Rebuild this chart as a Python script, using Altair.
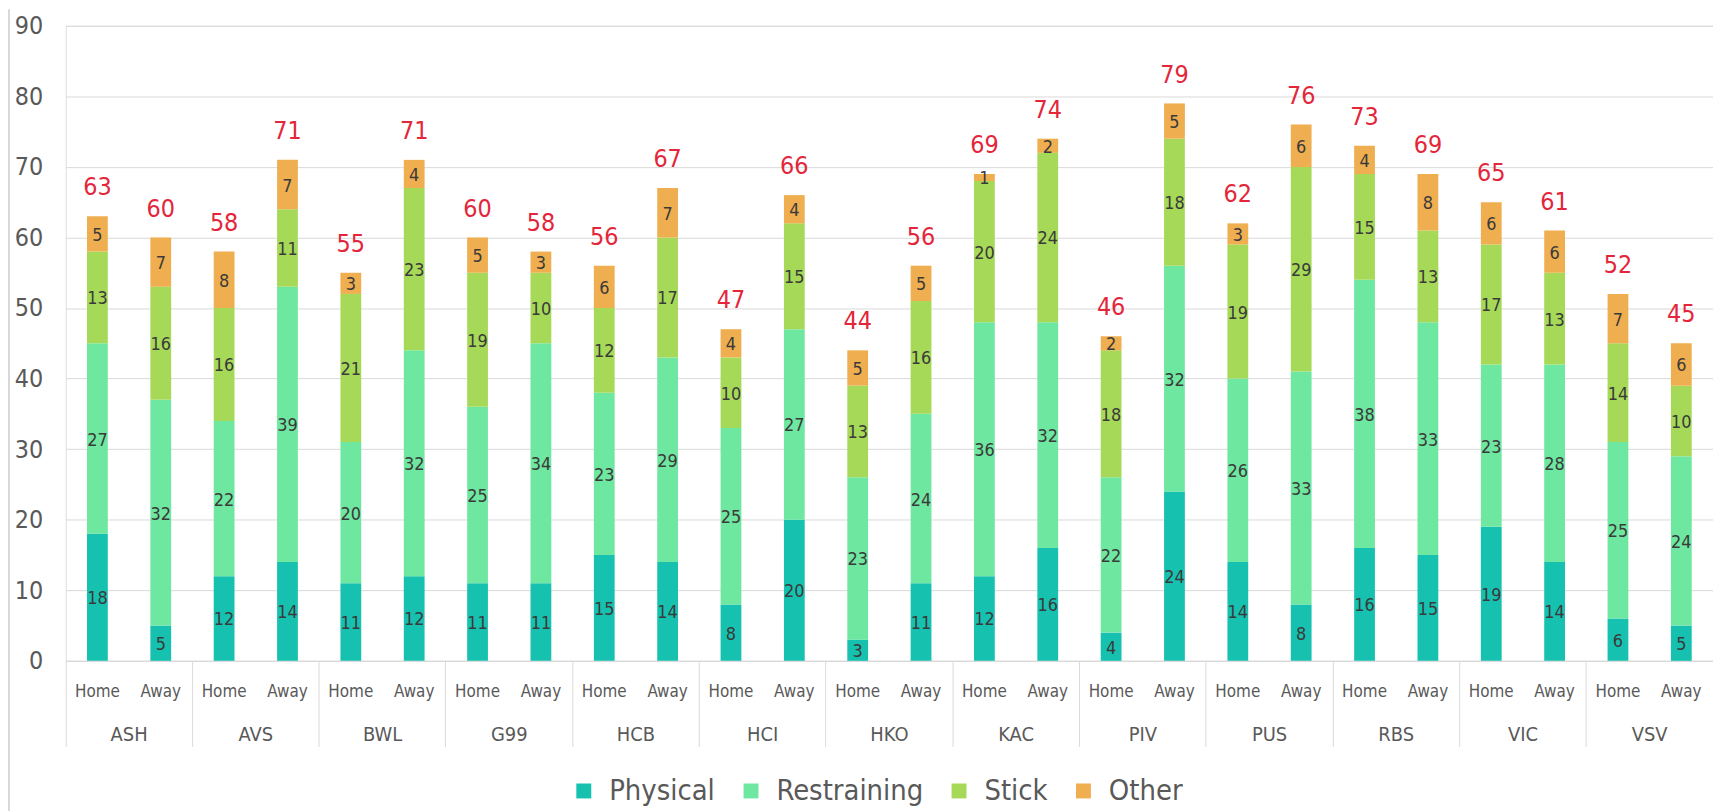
import altair as alt
import pandas as pd

teams = ["ASH", "AVS", "BWL", "G99", "HCB", "HCI", "HKO", "KAC", "PIV", "PUS", "RBS", "VIC", "VSV"]
sides = ["Home", "Away"]
categories = ["Physical", "Restraining", "Stick", "Other"]
colors = ["#17C1B0", "#6EE7A0", "#A6D957", "#EFAE4F"]

physical =    [18, 5, 12, 14, 11, 12, 11, 11, 15, 14, 8, 20, 3, 11, 12, 16, 4, 24, 14, 8, 16, 15, 19, 14, 6, 5]
restraining = [27, 32, 22, 39, 20, 32, 25, 34, 23, 29, 25, 27, 23, 24, 36, 32, 22, 32, 26, 33, 38, 33, 23, 28, 25, 24]
stick =       [13, 16, 16, 11, 21, 23, 19, 10, 12, 17, 10, 15, 13, 16, 20, 24, 18, 18, 19, 29, 15, 13, 17, 13, 14, 10]
other =       [5, 7, 8, 7, 3, 4, 5, 3, 6, 7, 4, 4, 5, 5, 1, 2, 2, 5, 3, 6, 4, 8, 6, 6, 7, 6]

series = [physical, restraining, stick, other]
rows = []
for ci, (cat, vals) in enumerate(zip(categories, series)):
    for i, v in enumerate(vals):
        rows.append({"team": teams[i // 2], "side": sides[i % 2], "category": cat,
                     "order": ci, "value": v})
df = pd.DataFrame(rows)

FONT = "DejaVu Sans Condensed, DejaVu Sans, sans-serif"
W, H = 1655, 638

x_enc = alt.X("team:N", sort=teams, title=None,
              scale=alt.Scale(paddingInner=0, paddingOuter=0),
              axis=alt.Axis(labelAngle=0, bandPosition=0,
                            tickSize=86, tickColor="#d9d9d9", domainColor="#d9d9d9",
                            labelPadding=-12, labelFontSize=20, labelColor="#595959",
                            labelFont=FONT, labelBaseline="middle"))
xo_enc = alt.XOffset("side:N", sort=sides,
                     scale=alt.Scale(paddingInner=0.672, paddingOuter=0.336))

base = alt.Chart(df)

bars = base.mark_bar().encode(
    x=x_enc,
    xOffset=xo_enc,
    y=alt.Y("value:Q", stack="zero", title=None,
            scale=alt.Scale(domain=[0, 90], nice=False),
            axis=alt.Axis(values=list(range(0, 91, 10)), domain=False, ticks=False,
                          gridColor="#d9d9d9", labelFontSize=25, labelColor="#595959",
                          labelFont=FONT, labelPadding=23)),
    color=alt.Color("category:N", sort=categories,
                    scale=alt.Scale(domain=categories, range=colors),
                    legend=alt.Legend(title=None, orient="none", direction="horizontal",
                                      legendX=506, legendY=754, symbolType="square",
                                      symbolSize=225, symbolStrokeWidth=0,
                                      labelFontSize=29, labelFont=FONT, labelColor="#595959",
                                      labelOffset=11, columnPadding=21, labelLimit=0)),
    order=alt.Order("order:Q"),
)

seg_text = base.transform_stack(
    stack="value", groupby=["team", "side"], as_=["y0", "y1"],
    sort=[alt.SortField("order", order="ascending")]
).transform_calculate(
    mid="(datum.y0 + datum.y1) / 2"
).mark_text(fontSize=18, font=FONT, color="#3a3a3a", baseline="middle", dy=2).encode(
    x=alt.X("team:N", sort=teams),
    xOffset=alt.XOffset("side:N", sort=sides),
    y=alt.Y("mid:Q"),
    text=alt.Text("value:Q"),
)

totals = base.transform_aggregate(
    total="sum(value)", groupby=["team", "side"]
).mark_text(fontSize=25, font=FONT, color="#E3263A", baseline="alphabetic", dy=-21).encode(
    x=alt.X("team:N", sort=teams),
    xOffset=alt.XOffset("side:N", sort=sides),
    y=alt.Y("total:Q"),
    text=alt.Text("total:Q"),
)

side_labels = base.transform_filter(
    alt.datum.order == 0
).mark_text(fontSize=17, font=FONT, color="#595959", baseline="middle").encode(
    x=alt.X("team:N", sort=teams),
    xOffset=alt.XOffset("side:N", sort=sides),
    y=alt.value(H + 31),
    text=alt.Text("side:N"),
)

border = base.mark_rule(color="#d9d9d9", strokeWidth=1).encode(
    x=alt.value(-57), y=alt.value(-16), y2=alt.value(H + 150)
)

chart = alt.layer(bars, seg_text, totals, side_labels, border).properties(
    width=W, height=H,
    autosize=alt.AutoSizeParams(type="none"),
    padding={"left": 58, "top": 16, "right": 0, "bottom": 150},
).configure_view(stroke=None).configure(background="white")

chart.save("out.html", embed_options={"renderer": "svg", "actions": False})
